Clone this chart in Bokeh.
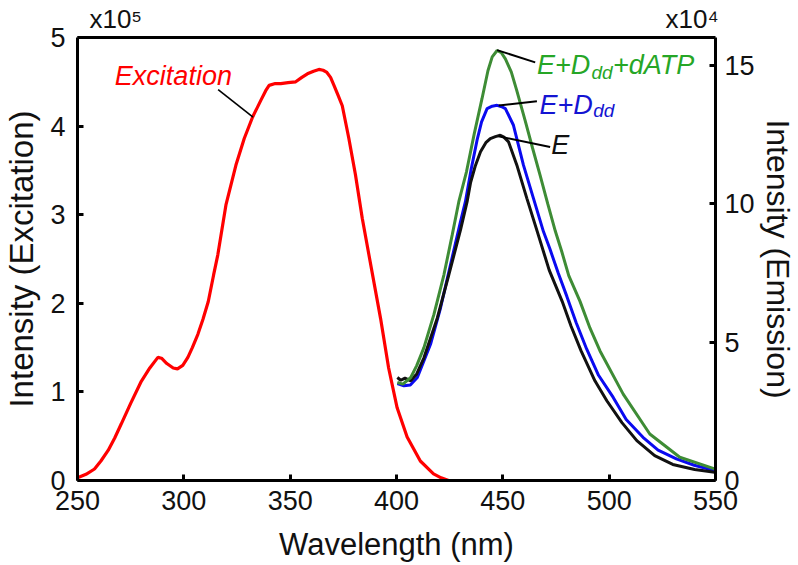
from bokeh.plotting import figure
from bokeh.models import Range1d, LinearAxis, FixedTicker
from bokeh.core.properties import value
from bokeh.embed import file_html
from bokeh.resources import INLINE

# ---- data (excitation in units of 1e5, emission in units of 1e4) ----
ex_wl = [250, 254, 258, 261, 264.4, 267.5, 270.6, 275, 280, 284, 287.8, 289.5, 292, 295, 297,
         299.5, 301.9, 304, 306.6, 309, 311.5, 314, 316, 319.8, 324.5, 328.4, 332.3, 336.2,
         338.5, 340.1, 343, 345.6, 349, 352.6, 355.5, 358.1, 361, 363.5, 365.5, 367.1, 369,
         370.6, 372.5, 374.5, 377.6, 380.7, 383.9, 387, 392.5, 396.3, 400.3, 405, 411.2,
         417.4, 421, 424.5]
ex_int = [0.03, 0.07, 0.13, 0.22, 0.34, 0.48, 0.64, 0.87, 1.12, 1.27, 1.39, 1.38, 1.32, 1.27,
          1.26, 1.30, 1.39, 1.50, 1.65, 1.82, 2.02, 2.32, 2.55, 3.11, 3.56, 3.86, 4.10, 4.29,
          4.40, 4.46, 4.48, 4.48, 4.49, 4.50, 4.55, 4.59, 4.62, 4.64, 4.63, 4.61, 4.55, 4.46,
          4.35, 4.23, 3.86, 3.45, 2.96, 2.55, 1.83, 1.27, 0.82, 0.49, 0.22, 0.075, 0.03, 0.0]

e_wl = [400.4, 402, 404, 406.7, 409.5, 412.9, 419.2, 424.6, 430.1, 433.2, 434.8, 437, 439.5,
        442, 444.1, 446.5, 448.8, 450.5, 452.7, 456.6, 461.3, 466.2, 471.8, 477.9, 482.1,
        486.8, 493.3, 498.9, 506.0, 513.0, 521.4, 529.9, 540.2, 549.6]
e_int = [3.72, 3.62, 3.70, 3.60, 3.85, 4.43, 5.87, 7.43, 9.05, 10.07, 10.75, 11.35, 11.87,
         12.2, 12.35, 12.42, 12.47, 12.4, 12.23, 11.39, 10.19, 8.99, 7.6, 6.47, 5.57, 4.68,
         3.60, 2.88, 2.09, 1.44, 0.90, 0.58, 0.40, 0.30]

ed_wl = [400.4, 403.5, 406.5, 409.8, 416.0, 420.7, 425.4, 430.1, 432.4, 435, 437.9, 440,
         442.6, 445, 447.3, 449.5, 451.2, 455, 459.7, 464.4, 469.1, 472.2, 476, 480.1, 484.5,
         489.4, 495, 501.9, 508, 515.9, 523, 531.6, 540, 549.6]
ed_int = [3.5, 3.42, 3.45, 3.72, 4.92, 6.23, 7.8, 9.35, 10.07, 11.2, 12.3, 12.95, 13.43, 13.52,
          13.55, 13.5, 13.43, 12.83, 11.39, 10.19, 8.99, 8.35, 7.5, 6.65, 5.7, 4.75, 3.8, 3.0,
          2.2, 1.56, 1.1, 0.78, 0.55, 0.36]

edd_wl = [400.4, 403, 406.7, 409.5, 412.9, 417.6, 422.3, 426.2, 429.3, 432.9, 436.5, 440.2,
          443, 445, 447.3, 449.3, 451.2, 454, 456.5, 460.5, 464, 467.6, 471.1, 474.7, 477.7,
          481, 486.3, 491, 495.7, 506.6, 519.1, 533.2, 549.6]
edd_int = [3.54, 3.48, 3.72, 4.15, 4.8, 6.0, 7.43, 8.87, 10.07, 11.15, 12.5, 13.79, 14.8, 15.3,
           15.53, 15.45, 15.23, 14.75, 14.1, 13.0, 12.0, 11.0, 10.0, 9.0, 8.27, 7.4, 6.47, 5.5,
           4.68, 3.12, 1.68, 0.84, 0.42]

x_ticks = [250, 300, 350, 400, 450, 500, 550]
left_ticks = [0, 1, 2, 3, 4, 5]
right_ticks = [0, 5, 10, 15]
mult_left = "x10\u2075"
mult_right = "x10\u2074"

FONT = "Liberation Sans"

# page-pixel -> data helpers for annotation placement
TEXT_SHIFT = 9  # text glyphs render a little lower than the requested baseline

def px2wl(x):
    return 250 + (x - 75.5) / 2.135

def py2ex(y):
    return (480 - y) / 89.0

def py2em(y):
    return (480 - y) / 27.81

p = figure(width=798, height=565, output_backend="svg", toolbar_location=None,
           x_range=Range1d(250, 550), y_range=Range1d(0, 5),
           min_border_left=76, min_border_right=82, min_border_top=35, min_border_bottom=85)
p.extra_y_ranges = {"em": Range1d(0, 16)}
p.grid.visible = False
p.background_fill_color = "white"
p.border_fill_color = "white"
p.outline_line_color = None

bottom = p.below[0]
left = p.left[0]

right = LinearAxis(y_range_name="em")
p.add_layout(right, "right")

# top axis: frame border + the multiplier labels
top = LinearAxis()
p.add_layout(top, "above")
tl, tr = int(round(px2wl(114))), int(round(px2wl(693.5)))
top.ticker = FixedTicker(ticks=[tl, tr])
top.major_label_overrides = {tl: mult_left, tr: mult_right}

for ax in [bottom, left, right, top]:
    ax.axis_line_width = 3
    ax.axis_line_color = "black"
    ax.major_tick_line_width = 3
    ax.major_tick_in = 6
    ax.major_tick_out = 0
    ax.minor_tick_line_color = None
    ax.major_label_text_font = FONT
    ax.major_label_text_font_size = "27px"
    ax.major_label_text_color = "#111111"
    ax.axis_label_text_font = FONT
    ax.axis_label_text_font_style = "normal"
    ax.axis_label_text_color = "#111111"

top.major_tick_line_color = None
top.major_label_text_font_size = "26px"
top.major_label_standoff = 4

bottom.ticker = FixedTicker(ticks=x_ticks)
left.ticker = FixedTicker(ticks=left_ticks)
right.ticker = FixedTicker(ticks=right_ticks)
bottom.axis_label = "Wavelength (nm)"
bottom.axis_label_text_font_size = "31px"
bottom.major_label_standoff = 10
bottom.axis_label_standoff = 14
left.axis_label = "Intensity (Excitation)"
left.axis_label_text_font_size = "33px"
left.major_label_standoff = 12
left.axis_label_standoff = 7
right.axis_label = "Intensity (Emission)"
right.axis_label_text_font_size = "32px"
right.major_label_standoff = 9
right.axis_label_standoff = 2

# curves
p.line(ex_wl, ex_int, line_color="#FF0000", line_width=3.2)
p.line(ed_wl, ed_int, y_range_name="em", line_color="#0A0AF0", line_width=3)
p.line(e_wl, e_int, y_range_name="em", line_color="#111111", line_width=3)
p.line(edd_wl, edd_int, y_range_name="em", line_color="#3E8C35", line_width=3)

# leader lines
p.line([px2wl(216.7), px2wl(251.7)], [py2ex(87.3), py2ex(115)], line_color="black", line_width=1.6)
p.line([px2wl(496.7), px2wl(535)], [py2em(47.7), py2em(60)], y_range_name="em",
       line_color="black", line_width=2)
p.line([px2wl(498.3), px2wl(536.7)], [py2em(103.3), py2em(99)], y_range_name="em",
       line_color="black", line_width=2)
p.line([px2wl(498.3), px2wl(550)], [py2em(134.3), py2em(145)], y_range_name="em",
       line_color="black", line_width=2)

def txt(x, ypx, s, color, size, rng="default"):
    ypx = ypx - TEXT_SHIFT
    if rng == "default":
        p.text([x], [py2ex(ypx)], text=[s], text_color=color, text_font=value(FONT),
               text_font_style="italic", text_font_size=size,
               text_align="left", text_baseline="alphabetic")
    else:
        p.text([x], [py2em(ypx)], text=[s], text_color=color, text_font=value(FONT),
               text_font_style="italic", text_font_size=size,
               text_align="left", text_baseline="alphabetic", y_range_name=rng)

txt(px2wl(113), 83, "Excitation", "#FF0000", "27px")
GREEN_T = "#26A626"
BLUE_T = "#1414D2"
txt(px2wl(536.7), 71.7, "E+D", GREEN_T, "27px", "em")
txt(px2wl(591.5), 79.5, "dd", GREEN_T, "19px", "em")
txt(px2wl(613), 71.7, "+dATP", GREEN_T, "27px", "em")
txt(px2wl(539.3), 111.7, "E+D", BLUE_T, "27px", "em")
txt(px2wl(593.3), 117, "dd", BLUE_T, "19px", "em")
txt(px2wl(551), 151.7, "E", "#111111", "27px", "em")

open("out.html", "w").write(file_html(p, INLINE))
